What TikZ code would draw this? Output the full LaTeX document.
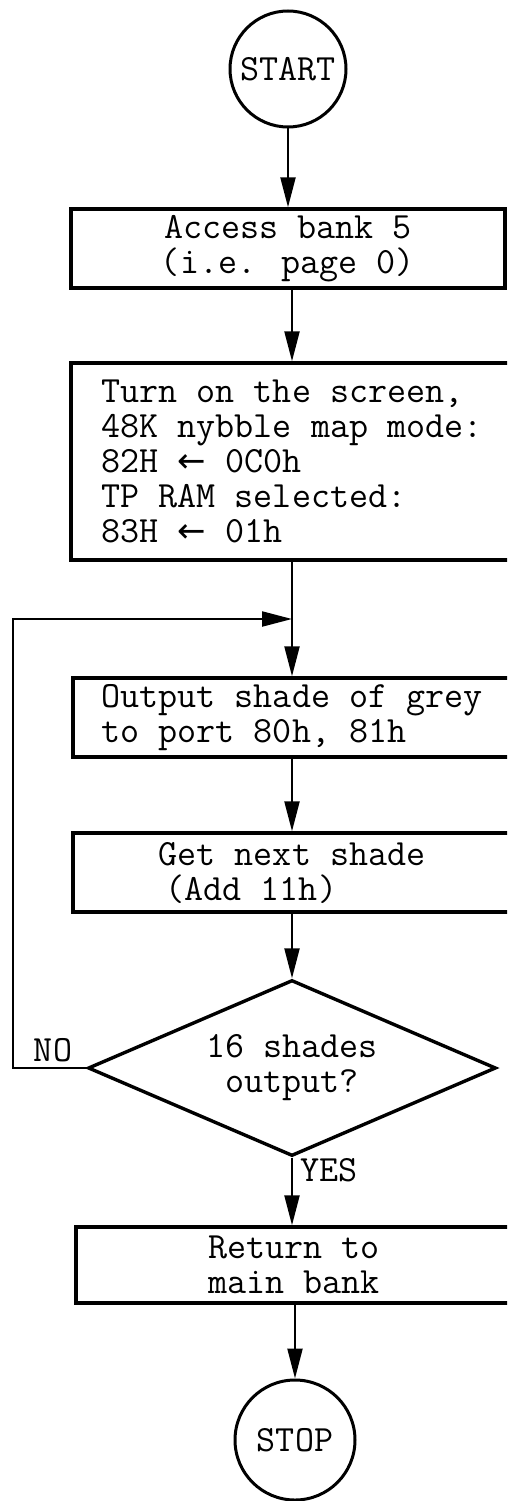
\documentclass[tikz,border=0pt]{standalone}
\usepackage{fontspec}
\newfontfamily\arrowfont{DejaVu Sans}
\usetikzlibrary{shapes.geometric,arrows.meta}
\newcommand{\larr}{{\arrowfont\fontsize{34}{35}\selectfont ←}}
\begin{document}
\begin{tikzpicture}[x=1pt,y=-1pt,
  every node/.style={font=\fontsize{37}{35}\selectfont\ttfamily},
  term/.style={draw,circle,line width=3pt,inner sep=0pt},
  proc/.style={draw,rectangle,line width=3.4pt,inner sep=0pt},
  decis/.style={draw,diamond,line width=3.4pt,inner sep=0pt,aspect=2.3},
  flow/.style={line width=2.2pt,-{Triangle[length=30pt,width=15pt]}},
  lbl/.style={inner sep=0pt}]
\useasboundingbox (0,0) rectangle (507,1501);
\clip (0,0) rectangle (507,1501);
\node[term,minimum size=116pt] (start) at (288,69) {START};
\node[proc,minimum width=434pt,minimum height=79pt,align=center] (b1) at (288,248.5) {Access bank 5\\(i.e. page 0)};
\node[proc,minimum width=442pt,minimum height=197pt,align=left] (b2) at (292,461.5) {Turn on the screen,\\48K nybble map mode:\\82H \larr{} 0C0h\\TP RAM selected:\\83H \larr{} 01h};
\node[proc,minimum width=438pt,minimum height=79pt,align=left] (b3) at (292,717.5) {Output shade of grey\\to port 80h, 81h};
\node[proc,minimum width=438pt,minimum height=79pt,align=left] (b4) at (292,872.5) {Get next shade\\\hspace*{7pt}(Add 11h)};
\node[decis,minimum width=408pt,minimum height=176pt,align=center] (dec) at (292,1068) {16 shades\\output?};
\node[proc,minimum width=436pt,minimum height=76pt,align=center] (b5) at (294,1265) {Return to\\main bank};
\node[term,minimum size=120pt] (stop) at (295,1440) {STOP};
\node[lbl] (no) at (53,1050) {NO};
\node[lbl] (yes) at (329,1170) {YES};
\coordinate (J) at (292,619);
\coordinate (L) at (13,619);
\draw[flow] (start.south) -- (start.south |- b1.north);
\draw[flow] (b1.south -| b2.north) -- (b2.north);
\draw[flow] (b2.south) -- (b3.north);
\draw[flow] (dec.west) -| (L) -- (J);
\draw[flow] (b3.south) -- (b4.north);
\draw[flow] (b4.south) -- (dec.north);
\draw[flow] (dec.south) -- (dec.south |- b5.north);
\draw[flow] (b5.south -| stop.north) -- (stop.north);
\end{tikzpicture}
\end{document}
